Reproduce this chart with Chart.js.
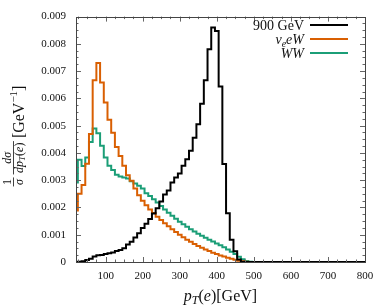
<!DOCTYPE html>
<html>
<head>
<meta charset="utf-8">
<script src="https://cdn.jsdelivr.net/npm/chart.js@4.4.0/dist/chart.umd.min.js"></script>
<style>
  html, body { margin: 0; padding: 0; background: #fff; }
</style>
</head>
<body>
<canvas id="chart" width="390" height="307"></canvas>
<script>
'use strict';

// pT(e) bin centres in GeV (10 GeV bins, first and last one cut by the axis)
const binCenters = [20, 30, 40, 50, 60, 70, 80, 90, 100, 110, 120, 130, 140, 150, 160, 170, 180, 190,
  200, 210, 220, 230, 240, 250, 260, 270, 280, 290, 300, 310, 320, 330, 340, 350, 360, 370, 380, 390,
  400, 410, 420, 430, 440, 450, 460, 470, 480, 490, 500, 510, 520, 530, 540, 550, 560, 570, 580, 590,
  600, 610, 620, 630, 640, 650, 660, 670, 680, 690, 700, 710, 720, 730, 740, 750, 760, 770, 780, 790, 800];

// normalised distributions, in units of 1e-3 GeV^-1
const sig900 = [0, 0, 0.01, 0.03, 0.07, 0.12, 0.20, 0.25, 0.26, 0.29, 0.32, 0.35, 0.40, 0.44, 0.50, 0.64, 0.74, 0.90,
  1.05, 1.25, 1.40, 1.58, 1.78, 1.97, 2.22, 2.48, 2.62, 2.92, 3.10, 3.25, 3.53, 3.77, 4.08, 4.56, 5.05, 5.80, 6.67, 7.80,
  8.60, 8.47, 6.44, 3.59, 1.79, 0.82, 0.39, 0.09, 0.01, 0, 0, 0, 0, 0, 0, 0, 0, 0, 0, 0,
  0, 0, 0, 0, 0, 0, 0, 0, 0, 0, 0, 0, 0, 0, 0, 0, 0, 0, 0, 0, 0];
const nueeW = [1.10, 1.89, 2.50, 2.82, 3.60, 4.69, 6.67, 7.30, 6.58, 5.85, 5.22, 4.74, 4.22, 3.89, 3.53, 3.18, 2.98, 2.70,
  2.45, 2.25, 2.08, 1.93, 1.80, 1.66, 1.54, 1.42, 1.31, 1.20, 1.10, 1.00, 0.91, 0.82, 0.74, 0.66, 0.59, 0.52, 0.46, 0.40,
  0.34, 0.29, 0.24, 0.20, 0.16, 0.12, 0.08, 0.05, 0.03, 0.01, 0, 0, 0, 0, 0, 0, 0, 0, 0, 0,
  0, 0, 0, 0, 0, 0, 0, 0, 0, 0, 0, 0, 0, 0, 0, 0, 0, 0, 0, 0, 0];
const wwBkg = [1.20, 2.92, 3.75, 3.52, 3.83, 4.40, 4.90, 4.72, 4.26, 3.83, 3.53, 3.37, 3.20, 3.14, 3.10, 3.06, 2.96, 2.88,
  2.80, 2.70, 2.52, 2.42, 2.30, 2.18, 2.05, 1.93, 1.81, 1.70, 1.59, 1.48, 1.38, 1.29, 1.20, 1.12, 1.04, 0.96, 0.89, 0.82,
  0.75, 0.68, 0.61, 0.54, 0.46, 0.38, 0.29, 0.19, 0.10, 0.04, 0.01, 0, 0, 0, 0, 0, 0, 0, 0, 0,
  0, 0, 0, 0, 0, 0, 0, 0, 0, 0, 0, 0, 0, 0, 0, 0, 0, 0, 0, 0, 0];

const xTicks = [100, 200, 300, 400, 500, 600, 700, 800];
const yTicks = [0, 0.001, 0.002, 0.003, 0.004, 0.005, 0.006, 0.007, 0.008, 0.009];

const X_MIN = 20, X_MAX = 800, Y_MAX = 0.009;
const SERIF = '"Liberation Serif", "DejaVu Serif", serif';

// histogram as a stepped line: one point at each bin's left edge, plus the closing edge
function histPoints(vals) {
  let pts = binCenters.map((c, i) => ({ x: Math.max(X_MIN, c - 5), y: vals[i] / 1000 }));
  pts.push({ x: X_MAX, y: vals[vals.length - 1] / 1000 });
  return pts;
}

function richWidth(ctx, parts) {
  let w = 0;
  parts.forEach(p => { ctx.font = p[1]; w += ctx.measureText(p[0]).width; });
  return w;
}

function drawRich(ctx, parts, x, y) {
  let cx = x;
  parts.forEach(p => {
    ctx.font = p[1];
    ctx.fillText(p[0], cx, y + (p[2] || 0));
    cx += ctx.measureText(p[0]).width;
  });
}

function drawFrac(ctx, x, num, den) {
  let wn = richWidth(ctx, num), wd = richWidth(ctx, den);
  let w = Math.max(wn, wd) + 3;
  drawRich(ctx, num, x + (w - wn) / 2, -13);
  drawRich(ctx, den, x + (w - wd) / 2, -1);
  ctx.beginPath();
  ctx.moveTo(x, -10.5);
  ctx.lineTo(x + w, -10.5);
  ctx.stroke();
  return w;
}

const frameTicks = {
  id: 'frameTicks',
  afterDatasetsDraw(chart) {
    const { ctx, chartArea: a, scales: { x, y } } = chart;
    ctx.save();
    ctx.strokeStyle = '#666';
    ctx.lineWidth = 1;
    ctx.beginPath();
    for (let v = 25; v < X_MAX; v += 25) {
      if (v < X_MIN) continue;
      let px = Math.round(x.getPixelForValue(v)) + 0.5;
      let len = v % 100 === 0 ? 5 : 2.5;
      ctx.moveTo(px, a.bottom); ctx.lineTo(px, a.bottom - len);
      ctx.moveTo(px, a.top); ctx.lineTo(px, a.top + len);
    }
    for (let k = 1; k < 36; k++) {
      let py = Math.round(y.getPixelForValue(k * 0.00025)) + 0.5;
      let len = k % 4 === 0 ? 5 : 2.5;
      ctx.moveTo(a.left, py); ctx.lineTo(a.left + len, py);
      ctx.moveTo(a.right, py); ctx.lineTo(a.right - len, py);
    }
    ctx.stroke();
    ctx.strokeStyle = '#444';
    ctx.strokeRect(Math.round(a.left) + 0.5, Math.round(a.top) + 0.5,
      Math.round(a.right - a.left), Math.round(a.bottom - a.top));
    ctx.restore();
  },
  afterDraw(chart) {
    const { ctx, chartArea: a } = chart;
    ctx.save();
    ctx.fillStyle = '#111';
    ctx.strokeStyle = '#111';
    ctx.lineWidth = 0.8;
    ctx.textBaseline = 'alphabetic';

    // legend (text, then line sample)
    const rows = [
      { parts: [['900 GeV', '14px ' + SERIF]], color: '#000000' },
      { parts: [['ν', 'italic 14px ' + SERIF], ['e', 'italic 10px ' + SERIF, 3], ['eW', 'italic 14px ' + SERIF]], color: '#D95F02' },
      { parts: [['WW', 'italic 14px ' + SERIF]], color: '#1B9E77' }
    ];
    rows.forEach((r, i) => {
      let yy = 25 + i * 14;
      let w = richWidth(ctx, r.parts);
      drawRich(ctx, r.parts, 304 - w, yy + 4.5);
      ctx.save();
      ctx.strokeStyle = r.color;
      ctx.lineWidth = 2;
      ctx.beginPath();
      ctx.moveTo(310, yy); ctx.lineTo(348, yy);
      ctx.stroke();
      ctx.restore();
    });

    // x title: p_T(e)[GeV]
    const xt = [['p', 'italic 16px ' + SERIF], ['T', 'italic 12px ' + SERIF, 3], ['(', '16px ' + SERIF],
      ['e', 'italic 16px ' + SERIF], [')[GeV]', '16px ' + SERIF]];
    drawRich(ctx, xt, (a.left + a.right) / 2 - richWidth(ctx, xt) / 2, 301);

    // y title: 1/sigma dsigma/dp_T(e) [GeV^-1], rotated
    const f = ' 12px ' + SERIF;
    const num1 = [['1', f]], den1 = [['σ', 'italic' + f]];
    const num2 = [['d', 'italic' + f], ['σ', 'italic' + f]];
    const den2 = [['dp', 'italic' + f], ['T', 'italic 9px ' + SERIF, 2], ['(', f], ['e', 'italic' + f], [')', f]];
    const unit = [['[GeV', '16px ' + SERIF], ['−1', '11px ' + SERIF, -7], [']', '16px ' + SERIF]];
    let total = Math.max(richWidth(ctx, num1), richWidth(ctx, den1)) + 3 + 3 +
      Math.max(richWidth(ctx, num2), richWidth(ctx, den2)) + 3 + 3 + richWidth(ctx, unit);
    ctx.translate(24, 136 + total / 2);
    ctx.rotate(-Math.PI / 2);
    let xx = 0;
    xx += drawFrac(ctx, xx, num1, den1) + 3;
    xx += drawFrac(ctx, xx, num2, den2) + 3;
    drawRich(ctx, unit, xx, 0);
    ctx.restore();
  }
};

new Chart(document.getElementById('chart'), {
  type: 'line',
  data: {
    datasets: [
      { label: '900 GeV', data: histPoints(sig900), borderColor: '#000000' },
      { label: 'νeeW', data: histPoints(nueeW), borderColor: '#D95F02' },
      { label: 'WW', data: histPoints(wwBkg), borderColor: '#1B9E77' }
    ]
  },
  options: {
    responsive: false,
    animation: false,
    devicePixelRatio: 1,
    layout: { padding: { left: 0, right: 25, top: 14, bottom: 0 } },
    elements: {
      line: { stepped: 'after', borderWidth: 2, tension: 0, fill: false },
      point: { radius: 0, hoverRadius: 0 }
    },
    plugins: { legend: { display: false }, tooltip: { enabled: false } },
    scales: {
      x: {
        type: 'linear', min: X_MIN, max: X_MAX,
        grid: { display: false, drawTicks: false },
        border: { display: false },
        afterBuildTicks: s => { s.ticks = xTicks.map(v => ({ value: v })); },
        afterFit: s => { s.height = 45; },
        ticks: { padding: 8, maxRotation: 0, color: '#111', font: { family: SERIF, size: 11 } }
      },
      y: {
        min: 0, max: Y_MAX,
        grid: { display: false, drawTicks: false },
        border: { display: false },
        afterBuildTicks: s => { s.ticks = yTicks.map(v => ({ value: v })); },
        afterFit: s => { s.width = 76; },
        ticks: {
          padding: 10, color: '#111', font: { family: SERIF, size: 11 },
          callback: v => v === 0 ? '0' : v.toFixed(3)
        }
      }
    }
  },
  plugins: [frameTicks]
});
</script>
</body>
</html>
